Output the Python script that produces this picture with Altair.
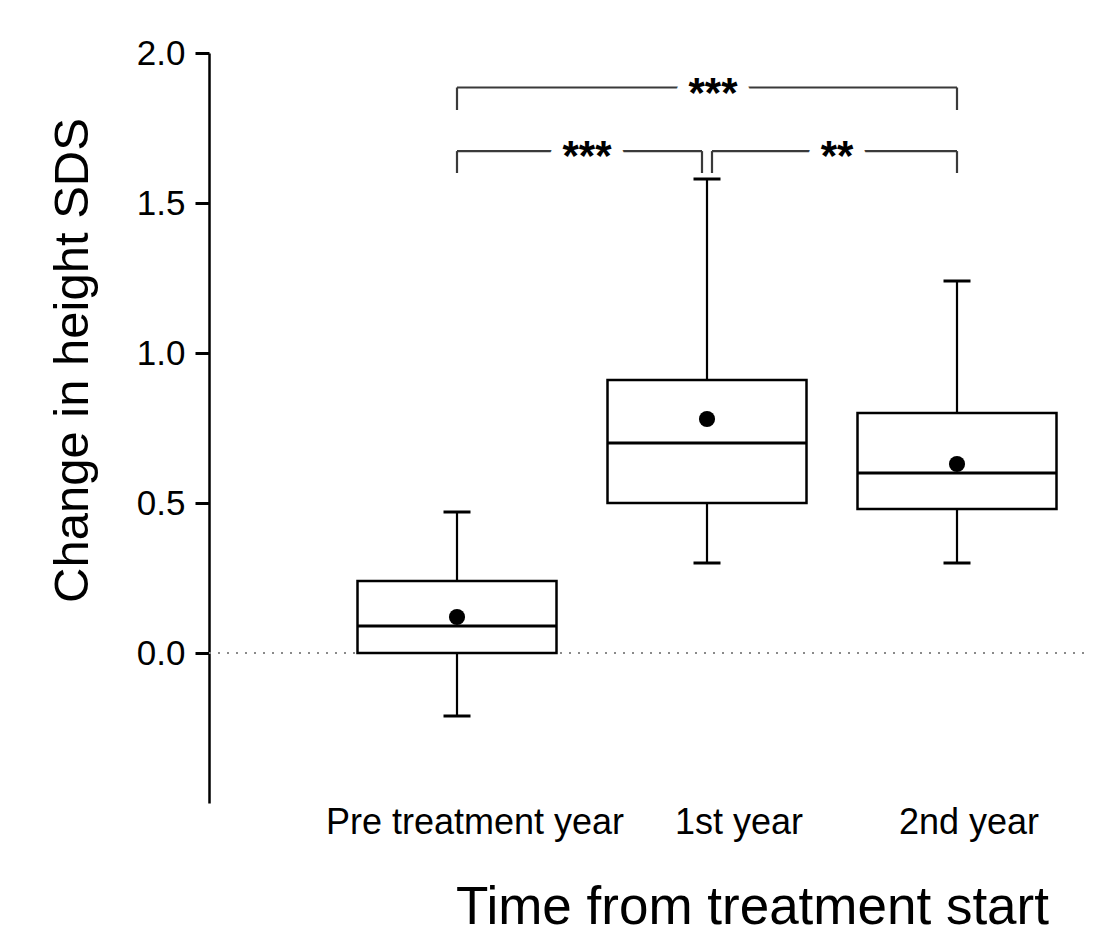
import altair as alt
import pandas as pd

# groups on the x axis
categories = ['Pre treatment year', '1st year', '2nd year']

# box plot summaries (change in height SDS)
whisker_low = [-0.21, 0.30, 0.30]
quartile_1 = [0.0, 0.50, 0.48]
median = [0.09, 0.70, 0.60]
quartile_3 = [0.24, 0.91, 0.80]
whisker_high = [0.47, 1.58, 1.24]
mean = [0.12, 0.78, 0.63]

# significance brackets
bracket_from = ['Pre treatment year', 'Pre treatment year', '1st year']
bracket_to = ['2nd year', '1st year', '2nd year']
bracket_top = [1.885, 1.673, 1.673]
bracket_drop = [1.81, 1.60, 1.60]
bracket_label = ['***', '***', '**']

boxes = pd.DataFrame({
    'group': categories, 'low': whisker_low, 'q1': quartile_1, 'med': median,
    'q3': quartile_3, 'high': whisker_high, 'mean': mean
})
brackets = pd.DataFrame({
    'start': bracket_from, 'end': bracket_to, 'top': bracket_top,
    'drop': bracket_drop, 'label': bracket_label
})

FONT = 'Liberation Sans'

x_scale = alt.Scale(domain=categories, paddingInner=0, paddingOuter=0.25, align=0.984)
y_scale = alt.Scale(domain=[-0.5, 2.0], nice=False, zero=False)

x_axis = alt.Axis(
    domain=False, ticks=False, tickSize=0, grid=False, labelAngle=0, labelLimit=0,
    labelFontSize=36, labelColor='black', labelBaseline='alphabetic', labelPadding=30,
    labelOffset={'condition': [{'test': "datum.value == 'Pre treatment year'", 'value': 18},
                               {'test': "datum.value == '1st year'", 'value': 32}],
                 'value': 12},
    titleFontSize=53, titleFontWeight='normal', titleColor='black',
    titleX=543, titleY=120, titleAlign='center', titleBaseline='alphabetic'
)
y_axis = alt.Axis(
    values=[0, 0.5, 1, 1.5, 2], format='.1f', grid=False,
    labelFontSize=35, labelColor='black', labelPadding=10,
    tickSize=14, tickWidth=3, tickColor='black', domainColor='black', domainWidth=2.5,
    titleFontSize=49, titleFontWeight='normal', titleColor='black',
    titleX=-122, titleY=307, titleAngle=270, titleAlign='center', titleBaseline='alphabetic'
)

X_TITLE = 'Time from treatment start'
Y_TITLE = 'Change in height SDS'


def xenc(field):
    return alt.X(field, type='nominal', scale=x_scale, axis=x_axis, title=X_TITLE, sort=None)


def yenc(field):
    return alt.Y(field, type='quantitative', scale=y_scale, axis=y_axis, title=Y_TITLE)


zero_line = alt.Chart(pd.DataFrame({'zero': [0.0]})).mark_rule(
    color='#8a8a8a', strokeWidth=2, strokeDash=[2, 7]
).encode(y=yenc('zero'))

lower_whisker = alt.Chart(boxes).mark_rule(color='black', strokeWidth=2.2).encode(
    x=xenc('group'), y=yenc('low'), y2='q1:Q')
upper_whisker = alt.Chart(boxes).mark_rule(color='black', strokeWidth=2.2).encode(
    x=xenc('group'), y=yenc('q3'), y2='high:Q')
low_cap = alt.Chart(boxes).mark_tick(color='black', opacity=1, size=27, thickness=3).encode(
    x=xenc('group'), y=yenc('low'))
high_cap = alt.Chart(boxes).mark_tick(color='black', opacity=1, size=27, thickness=3).encode(
    x=xenc('group'), y=yenc('high'))

box = alt.Chart(boxes).mark_bar(size=199, fill='white', stroke='black', strokeWidth=2.5).encode(
    x=xenc('group'), y=yenc('q1'), y2='q3:Q')
median_line = alt.Chart(boxes).mark_tick(color='black', opacity=1, size=199, thickness=3).encode(
    x=xenc('group'), y=yenc('med'))
mean_dot = alt.Chart(boxes).mark_point(filled=True, color='black', opacity=1, size=260).encode(
    x=xenc('group'), y=yenc('mean'))


def bracket(i, from_off, to_off, text_dx):
    row = alt.Chart(brackets.iloc[[i]])
    line_style = dict(color='#3a3a3a', strokeWidth=2.2)
    horiz = row.mark_rule(xOffset=from_off, x2Offset=to_off, **line_style).encode(
        x=xenc('start'), x2='end', y=yenc('top'))
    left = row.mark_rule(xOffset=from_off, **line_style).encode(
        x=xenc('start'), y=yenc('drop'), y2='top:Q')
    right = row.mark_rule(xOffset=to_off, **line_style).encode(
        x=xenc('end'), y=yenc('drop'), y2='top:Q')
    gap = row.mark_text(font=FONT, fontSize=42, fontWeight='bold', color='white', stroke='white',
                        strokeWidth=20, align='center', baseline='alphabetic', dx=text_dx, dy=19).encode(
        x=xenc('start'), y=yenc('top'), text='label:N')
    stars = row.mark_text(font=FONT, fontSize=42, fontWeight='bold', color='black',
                          align='center', baseline='alphabetic', dx=text_dx, dy=19).encode(
        x=xenc('start'), y=yenc('top'), text='label:N')
    return horiz + left + right + gap + stars


chart = alt.layer(
    zero_line, lower_whisker, upper_whisker, low_cap, high_cap, box, median_line, mean_dot,
    bracket(0, 0, 0, 256), bracket(1, 0, -5, 130), bracket(2, 5, 0, 130)
).properties(
    width=875,
    height=750,
    autosize=alt.AutoSizeParams(type='none'),
    padding={'left': 201, 'top': 45, 'right': 5, 'bottom': 133},
    background='white'
).configure(
    font=FONT
).configure_view(
    stroke=None
)

chart.save('out.html', embed_options={'renderer': 'svg', 'actions': False})
